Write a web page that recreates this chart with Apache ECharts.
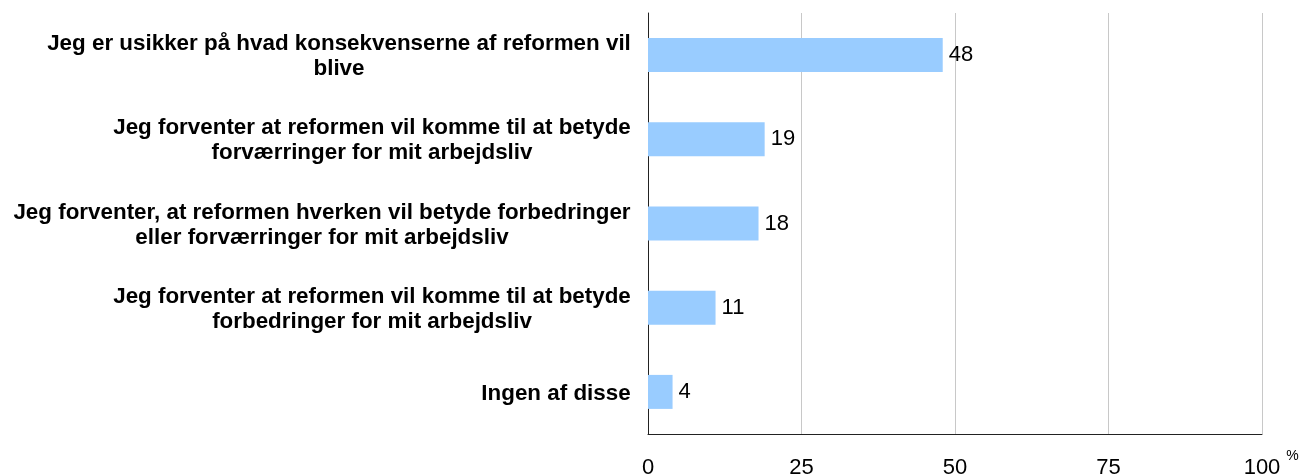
<!DOCTYPE html>
<html>
<head>
<meta charset="utf-8">
<script src="https://cdn.jsdelivr.net/npm/echarts@6/dist/echarts.min.js"></script>
<style>
html,body{margin:0;padding:0;background:#fff;}
#chart{width:1302px;height:476px;}
</style>
</head>
<body>
<div id="chart"></div>
<script>
const categories = [
  "Jeg er usikker på hvad konsekvenserne af reformen vil\nblive",
  "Jeg forventer at reformen vil komme til at betyde\nforværringer for mit arbejdsliv",
  "Jeg forventer, at reformen hverken vil betyde forbedringer\neller forværringer for mit arbejdsliv",
  "Jeg forventer at reformen vil komme til at betyde\nforbedringer for mit arbejdsliv",
  "Ingen af disse"
];
const values = [48, 19, 18, 11, 4];
const xTicks = [0, 25, 50, 75, 100];

const font = "'Liberation Sans', Arial, sans-serif";
const labelSize = 22.4;

// measure lines so each label block is right-anchored but its lines are centred
const ctx = document.createElement('canvas').getContext('2d');
ctx.font = 'bold ' + labelSize + 'px ' + font;
const rich = {s: {fontSize: 1, lineHeight: 3}};
categories.forEach((c, i) => {
  const w = Math.ceil(Math.max(...c.split('\n').map(l => ctx.measureText(l).width)));
  rich['c' + i] = {width: w, align: 'center', fontFamily: font, fontSize: labelSize, fontWeight: 'bold', color: '#000', lineHeight: 25};
});

const chart = echarts.init(document.getElementById('chart'), null, {renderer: 'canvas'});
chart.setOption({
  animation: false,
  backgroundColor: '#fff',
  grid: {left: 648, right: 40, top: 13, bottom: 42, containLabel: false, outerBoundsMode: 'none'},
  xAxis: {
    type: 'value',
    min: xTicks[0],
    max: xTicks[xTicks.length - 1],
    interval: xTicks[1] - xTicks[0],
    name: '\n%',
    nameLocation: 'end',
    nameGap: 20,
    nameTextStyle: {fontFamily: font, fontSize: 14, lineHeight: 15, color: '#000', verticalAlign: 'top'},
    axisLine: {show: true, lineStyle: {color: '#222', width: 1}},
    axisTick: {show: false},
    axisLabel: {fontFamily: font, fontSize: 22, color: '#000', margin: 23},
    splitLine: {show: true, lineStyle: {color: '#c8c8c8', width: 1}}
  },
  yAxis: {
    type: 'category',
    data: categories,
    inverse: true,
    axisLine: {show: true, lineStyle: {color: '#222', width: 1}},
    axisTick: {show: false},
    axisLabel: {
      margin: 17,
      align: 'right',
      formatter: (v, i) => '{s| }\n' + v.split('\n').map(l => '{c' + i + '|' + l + '}').join('\n'),
      rich: rich
    },
    splitLine: {show: false}
  },
  series: [{
    type: 'bar',
    data: values,
    barWidth: 34,
    itemStyle: {color: '#99CCFF'},
    label: {show: true, position: 'right', distance: 6, fontFamily: font, fontSize: 22, color: '#000'}
  }]
});
</script>
</body>
</html>
